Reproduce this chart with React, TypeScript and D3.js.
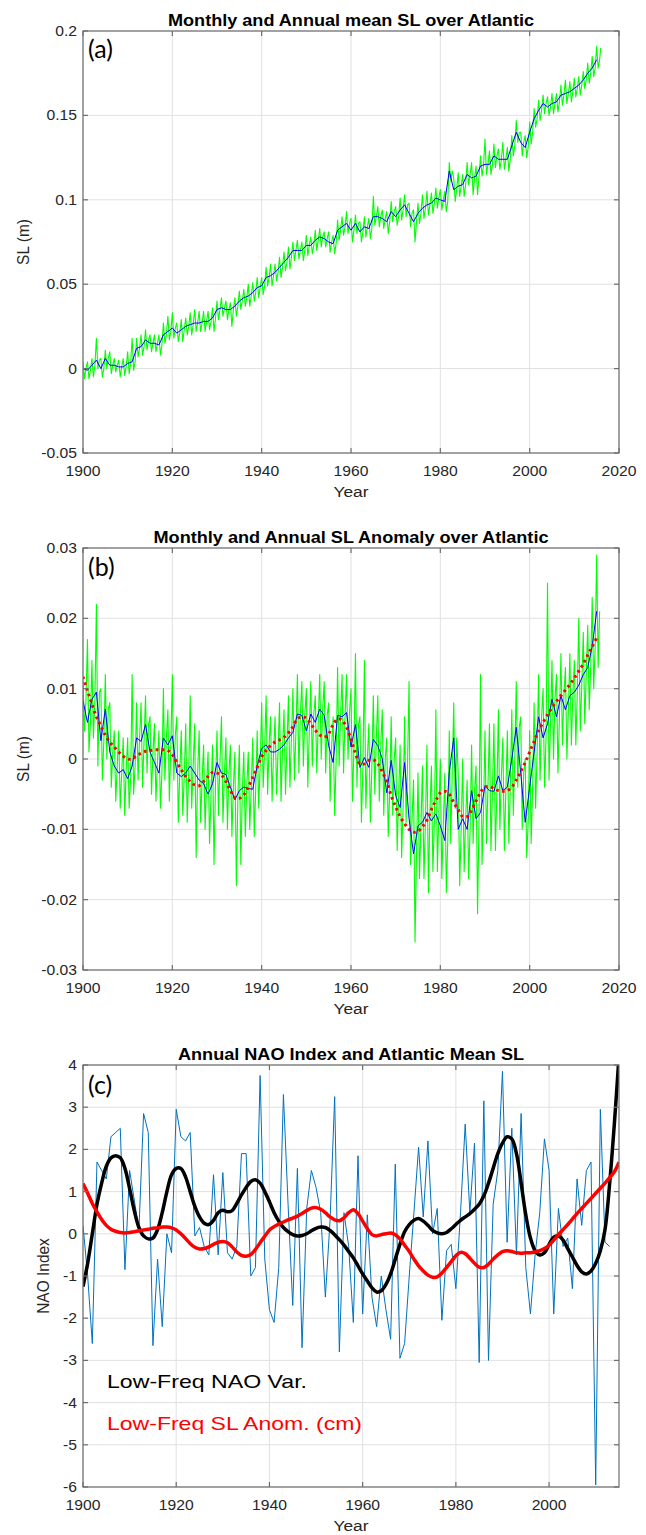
import React from 'react';
import * as d3 from 'd3';

// ---------------- DATA ----------------
const START_YEAR = 1900;

// Panel (a): annual mean SL (m), 1900-2015
const slAnnual = [
  0.000, -0.001, 0.002, 0.005, 0.000, 0.006, 0.002, 0.002, 0.001, 0.001,
  0.003, 0.004, 0.012, 0.013, 0.017, 0.015, 0.015, 0.014, 0.020, 0.022,
  0.024, 0.021, 0.023, 0.025, 0.026, 0.027, 0.027, 0.028, 0.028, 0.030,
  0.035, 0.036, 0.035, 0.035, 0.037, 0.040, 0.042, 0.043, 0.045, 0.048,
  0.049, 0.054, 0.055, 0.057, 0.060, 0.063, 0.066, 0.070, 0.070, 0.070,
  0.073, 0.073, 0.076, 0.078, 0.077, 0.075, 0.074, 0.082, 0.084, 0.086,
  0.082, 0.086, 0.081, 0.084, 0.083, 0.090, 0.090, 0.089, 0.087, 0.093,
  0.090, 0.094, 0.097, 0.092, 0.087, 0.092, 0.095, 0.097, 0.098, 0.101,
  0.100, 0.099, 0.117, 0.106, 0.108, 0.109, 0.115, 0.113, 0.114, 0.120,
  0.121, 0.121, 0.126, 0.124, 0.124, 0.124, 0.132, 0.140, 0.134, 0.131,
  0.140, 0.148, 0.153, 0.157, 0.155, 0.157, 0.158, 0.162, 0.163, 0.164,
  0.166, 0.168, 0.171, 0.175, 0.178, 0.183,
];
// Panel (a): monthly excursions above / below the annual mean (mm)
const slMonthlyUpMm = [
  4, 5, 4, 13, 6, 5, 8, 4, 4, 5,
  7, 14, 6, 7, 6, 5, 5, 6, 7, 9,
  9, 6, 6, 5, 7, 8, 7, 6, 6, 6,
  5, 6, 5, 4, 5, 6, 5, 7, 6, 6,
  5, 6, 7, 5, 6, 6, 6, 5, 6, 5,
  6, 5, 6, 5, 4, 6, 5, 6, 6, 7,
  7, 5, 6, 6, 6, 12, 6, 5, 6, 6,
  6, 7, 6, 6, 7, 6, 8, 8, 6, 6,
  6, 6, 5, 7, 8, 6, 7, 9, 6, 6,
  15, 8, 7, 6, 10, 7, 6, 7, 6, 7,
  6, 6, 6, 5, 6, 6, 5, 6, 8, 6,
  6, 5, 5, 6, 7, 8,
];
const slMonthlyDownMm = [
  6, 5, 7, 5, 5, 6, 5, 4, 6, 5,
  6, 5, 5, 5, 6, 5, 5, 6, 5, 5,
  6, 5, 7, 5, 6, 5, 5, 6, 5, 8,
  6, 5, 6, 10, 6, 5, 5, 6, 5, 6,
  5, 5, 6, 5, 6, 5, 7, 6, 5, 6,
  6, 5, 6, 6, 5, 6, 6, 6, 5, 6,
  7, 6, 6, 6, 6, 5, 6, 6, 7, 6,
  5, 6, 7, 8, 12, 6, 6, 6, 6, 6,
  6, 6, 6, 7, 6, 7, 6, 10, 11, 6,
  6, 6, 7, 6, 6, 7, 6, 6, 8, 6,
  7, 5, 6, 6, 5, 6, 6, 6, 6, 6,
  5, 6, 5, 6, 5, 5,
];

// Panel (b): annual SL anomaly (m), 1900-2015
const anomAnnual = [
  0.0083, 0.0052, 0.0085, 0.0095, 0.0026, 0.0071, 0.0010, -0.0010, -0.0020, -0.0015,
  -0.0028, -0.0010, 0.0030, 0.0025, 0.0049, 0.0010, -0.0005, -0.0020, 0.0030, 0.0020,
  0.0033, -0.0020, -0.0025, -0.0020, -0.0010, -0.0020, -0.0030, -0.0035, -0.0050, -0.0035,
  -0.0005, -0.0020, -0.0022, -0.0040, -0.0058, -0.0045, -0.0040, -0.0042, -0.0043, -0.0010,
  0.0015, 0.0020, 0.0010, 0.0010, 0.0014, 0.0020, 0.0030, 0.0038, 0.0064, 0.0062,
  0.0040, 0.0064, 0.0052, 0.0071, 0.0062, 0.0019, -0.0005, 0.0062, 0.0060, 0.0066,
  0.0017, 0.0049, -0.0012, 0.0002, -0.0012, 0.0028, 0.0019, 0.0000, -0.0048, -0.0002,
  -0.0052, -0.0069, -0.0005, -0.0085, -0.0135, -0.0095, -0.0090, -0.0076, -0.0088, -0.0078,
  -0.0095, -0.0116, -0.0019, 0.0030, -0.0100, -0.0085, -0.0100, -0.0045, -0.0085, -0.0076,
  -0.0038, -0.0045, -0.0046, -0.0024, -0.0045, -0.0040, 0.0000, 0.0045, -0.0020, -0.0090,
  -0.0040, 0.0010, 0.0060, 0.0030, 0.0050, 0.0085, 0.0060, 0.0090, 0.0070, 0.0090,
  0.0095, 0.0105, 0.0120, 0.0130, 0.0160, 0.0210,
];
// Panel (b): monthly anomaly highest / lowest value in each year (mm)
const anomMonthlyHiMm = [
  11, 17, 14, 22, 10, 12, 8, 4, 4, 3,
  3, 12, 8, 8, 9, 6, 5, 4, 10, 7,
  12, 6, 4, 5, 9, 5, 4, 2, 1, 2,
  4, 6, 3, 2, 1, 2, 1, 1, 3, 4,
  8, 9, 6, 6, 8, 7, 9, 10, 12, 11,
  10, 11, 9, 12, 11, 8, 6, 13, 12, 12,
  10, 15, 6, 14, 5, 9, 9, 7, 3, 6,
  3, 2, 6, 11, -3, -2, -1, 2, -1, 7,
  0, -2, 4, 8, -2, 0, -3, 2, -1, 12,
  4, 5, 5, 7, 3, 4, 7, 11, 6, 0,
  4, 8, 12, 10, 25, 14, 12, 15, 13, 15,
  14, 20, 18, 19, 23, 29,
];
const anomMonthlyLoMm = [
  4, 1, 3, -1, -3, 0, -4, -6, -7, -8,
  -7, -5, -3, -4, -2, -5, -6, -7, -3, -6,
  -3, -9, -8, -9, -7, -14, -9, -10, -12, -15,
  -8, -9, -10, -11, -18, -15, -11, -10, -11, -7,
  -4, -5, -6, -5, -6, -5, -4, -3, -2, -1,
  -4, -1, -2, 0, -2, -6, -8, -1, -2, 0,
  -6, -4, -9, -7, -9, -5, -6, -8, -11, -8,
  -13, -14, -9, -15, -26, -17, -17, -19, -16, -16,
  -17, -19, -12, -7, -18, -16, -17, -12, -22, -15,
  -12, -13, -13, -10, -13, -12, -8, -4, -10, -14,
  -12, -7, -3, -4, -3, 0, -2, 2, 0, 2,
  2, 4, 5, 7, 10, 13,
];
// Panel (b): low-frequency anomaly (m)
const anomSmooth = [
  0.0117, 0.0097, 0.0078, 0.0060, 0.0047, 0.0034, 0.0024, 0.0017, 0.0010, 0.0004,
  0.0000, 0.0000, 0.0005, 0.0008, 0.0011, 0.0012, 0.0013, 0.0013, 0.0013, 0.0012,
  0.0006, -0.0005, -0.0015, -0.0025, -0.0032, -0.0037, -0.0038, -0.0032, -0.0025, -0.0019,
  -0.0020, -0.0023, -0.0032, -0.0045, -0.0055, -0.0056, -0.0051, -0.0040, -0.0026, -0.0012,
  0.0003, 0.0012, 0.0019, 0.0024, 0.0027, 0.0031, 0.0037, 0.0046, 0.0057, 0.0060,
  0.0058, 0.0050, 0.0041, 0.0034, 0.0031, 0.0036, 0.0049, 0.0057, 0.0055, 0.0045,
  0.0028, 0.0008, -0.0007, -0.0007, -0.0002, -0.0001, -0.0007, -0.0018, -0.0032, -0.0052,
  -0.0068, -0.0082, -0.0092, -0.0100, -0.0104, -0.0103, -0.0096, -0.0087, -0.0072, -0.0059,
  -0.0048, -0.0046, -0.0050, -0.0062, -0.0072, -0.0082, -0.0082, -0.0073, -0.0060, -0.0047,
  -0.0040, -0.0039, -0.0042, -0.0045, -0.0046, -0.0045, -0.0040, -0.0030, -0.0018, -0.0005,
  0.0010, 0.0025, 0.0040, 0.0052, 0.0063, 0.0073, 0.0082, 0.0090, 0.0098, 0.0106,
  0.0115, 0.0125, 0.0135, 0.0148, 0.0160, 0.0172,
];

// Panel (c): annual NAO index, 1900-2013
const naoAnnual = [
  0.2, -1.0, -2.6, 1.7, 1.5, 1.3, 2.3, 2.4, 2.5, -0.85,
  1.5, 0.8, 0.1, 2.85, 2.4, -2.65, -0.6, -2.2, 0.0, -0.45,
  2.95, 2.3, 2.2, 2.4, -0.05, 0.15, -0.3, -0.5, 1.4, -0.5,
  1.45, -0.45, -0.6, -0.3, 1.9, 1.9, -1.0, -0.8, 3.75, -0.6,
  -1.8, -2.1, -0.8, 3.3, 0.7, -1.7, 1.55, -2.7, 0.6, 1.5,
  1.1, 0.5, -1.5, 0.3, 3.25, -2.8, 0.5, -0.3, -2.1, 1.85,
  -1.9, 0.45, -1.5, -2.2, -1.0, -1.8, -2.5, 1.65, -2.95, -2.6,
  -1.0, 0.5, 2.05, 0.4, 2.2, 0.0, 0.6, -2.05, -0.4, -0.25,
  -1.3, 0.5, 2.6, 0.5, 2.15, -3.05, 3.15, -3.0, 0.7, 1.5,
  3.85, -0.2, 2.5, -0.5, 2.85, -0.8, -1.9, -0.5, 0.5, 2.25,
  1.5, -1.9, 0.6, -0.3, -0.1, -1.3, 1.3, 0.2, 1.5, 1.7,
  -5.95, 2.95, -0.2, -0.3,
];
// Panel (c): low-frequency NAO variability, 1900-2015
const naoSmooth = [
  -1.25, -0.7, 0.0, 0.7, 1.2, 1.6, 1.8, 1.85, 1.8, 1.55,
  1.07, 0.55, 0.15, -0.05, -0.12, -0.1, 0.1, 0.5, 1.0, 1.4,
  1.55, 1.55, 1.35, 1.0, 0.65, 0.4, 0.25, 0.22, 0.32, 0.5,
  0.56, 0.52, 0.55, 0.72, 0.92, 1.1, 1.24, 1.28, 1.2, 1.0,
  0.76, 0.5, 0.3, 0.15, 0.05, -0.02, -0.05, -0.04, 0.0, 0.07,
  0.13, 0.16, 0.15, 0.08, -0.02, -0.14, -0.27, -0.42, -0.57, -0.76,
  -0.95, -1.12, -1.28, -1.38, -1.35, -1.2, -0.95, -0.6, -0.25, 0.05,
  0.22, 0.32, 0.36, 0.3, 0.2, 0.08, 0.02, 0.0, 0.03, 0.12,
  0.22, 0.32, 0.4, 0.48, 0.58, 0.7, 0.9, 1.2, 1.55, 1.9,
  2.15, 2.3, 2.25, 1.9, 1.2, 0.45, -0.1, -0.4, -0.5, -0.45,
  -0.25, -0.08, -0.05, -0.15, -0.35, -0.55, -0.75, -0.9, -0.95, -0.88,
  -0.7, -0.4, 0.1, 1.2, 2.6, 4.2,
];
// Panel (c): low-frequency SL anomaly (cm), 1900-2015
const slSmoothCm = [
  1.19, 0.96, 0.72, 0.52, 0.34, 0.2, 0.11, 0.06, 0.03, 0.02,
  0.03, 0.05, 0.07, 0.09, 0.11, 0.13, 0.14, 0.16, 0.16, 0.14,
  0.09, 0.0, -0.11, -0.23, -0.32, -0.36, -0.35, -0.31, -0.25, -0.2,
  -0.18, -0.21, -0.31, -0.43, -0.51, -0.53, -0.49, -0.37, -0.21, -0.06,
  0.09, 0.17, 0.23, 0.28, 0.33, 0.37, 0.42, 0.48, 0.55, 0.61,
  0.62, 0.58, 0.5, 0.4, 0.33, 0.31, 0.38, 0.5, 0.57, 0.48,
  0.3, 0.12, -0.02, -0.05, -0.02, 0.0, 0.02, -0.02, -0.12, -0.27,
  -0.42, -0.6, -0.76, -0.88, -0.98, -1.03, -1.02, -0.93, -0.8, -0.66,
  -0.52, -0.44, -0.47, -0.58, -0.7, -0.79, -0.8, -0.72, -0.6, -0.5,
  -0.42, -0.4, -0.42, -0.45, -0.46, -0.45, -0.45, -0.43, -0.4, -0.35,
  -0.27, -0.15, -0.02, 0.1, 0.22, 0.35, 0.48, 0.6, 0.72, 0.84,
  0.96, 1.08, 1.2, 1.33, 1.47, 1.7,
];

// Ticks
const xTicksAB = [1900, 1920, 1940, 1960, 1980, 2000, 2020];
const xTicksC = [1900, 1920, 1940, 1960, 1980, 2000];
const yTicksA = [-0.05, 0, 0.05, 0.1, 0.15, 0.2];
const yTicksB = [-0.03, -0.02, -0.01, 0, 0.01, 0.02, 0.03];
const yTicksC = [-6, -5, -4, -3, -2, -1, 0, 1, 2, 3, 4];

// ---------------- LAYOUT ----------------
const W = 646;
const H = 1535;
const LEFT = 83;
const RIGHT = 619;
const SX = 1.12; // horizontal stretch of the reference's text
const TICK_FONT = 'Liberation Sans, Arial, Helvetica, sans-serif';

type Series = {
  pts: [number, number][];
  color: string;
  width: number;
  dash?: string;
  smooth?: boolean;
};

type PanelProps = {
  id: string;
  top: number;
  bottom: number;
  xDomain: [number, number];
  yDomain: [number, number];
  xTicks: number[];
  yTicks: number[];
  title: string;
  titleLen: number;
  yLabel: string;
  yLabelX: number;
  letter: string;
  letterY: number;
  series: Series[];
  children?: React.ReactNode;
};

function Panel(p: PanelProps) {
  const x = d3.scaleLinear().domain(p.xDomain).range([LEFT, RIGHT]);
  const y = d3.scaleLinear().domain(p.yDomain).range([p.bottom, p.top]);
  const midX = (LEFT + RIGHT) / 2;
  const midY = (p.top + p.bottom) / 2;
  const tl = 5;
  const axisColor = '#6e6e6e';
  return (
    <g>
      <defs>
        <clipPath id={`clip-${p.id}`}>
          <rect x={LEFT} y={p.top} width={RIGHT - LEFT} height={p.bottom - p.top} />
        </clipPath>
      </defs>
      {p.xTicks.map((t) => (
        <line key={'gx' + t} x1={x(t)} x2={x(t)} y1={p.top} y2={p.bottom} stroke="#e1e1e1" strokeWidth={1} />
      ))}
      {p.yTicks.map((t) => (
        <line key={'gy' + t} x1={LEFT} x2={RIGHT} y1={y(t)} y2={y(t)} stroke="#e1e1e1" strokeWidth={1} />
      ))}
      <g clipPath={`url(#clip-${p.id})`}>
        {p.series.map((s, i) => {
          const gen = d3
            .line<[number, number]>()
            .x((d) => x(d[0]))
            .y((d) => y(d[1]));
          if (s.smooth) gen.curve(d3.curveCatmullRom.alpha(0.5));
          return (
            <path
              key={i}
              d={gen(s.pts) || ''}
              fill="none"
              stroke={s.color}
              strokeWidth={s.width}
              strokeDasharray={s.dash}
              strokeLinejoin="round"
            />
          );
        })}
      </g>
      <rect x={LEFT} y={p.top} width={RIGHT - LEFT} height={p.bottom - p.top} fill="none" stroke={axisColor} strokeWidth={1.2} />
      {p.xTicks.map((t) => (
        <g key={'tx' + t}>
          <line x1={x(t)} x2={x(t)} y1={p.bottom} y2={p.bottom - tl} stroke={axisColor} strokeWidth={1.2} />
          <line x1={x(t)} x2={x(t)} y1={p.top} y2={p.top + tl} stroke={axisColor} strokeWidth={1.2} />
        </g>
      ))}
      {p.yTicks.map((t) => (
        <g key={'ty' + t}>
          <line x1={LEFT} x2={LEFT + tl} y1={y(t)} y2={y(t)} stroke={axisColor} strokeWidth={1.2} />
          <line x1={RIGHT} x2={RIGHT - tl} y1={y(t)} y2={y(t)} stroke={axisColor} strokeWidth={1.2} />
        </g>
      ))}
      {p.xTicks.map((t) => (
        <text
          key={'lx' + t}
          transform={`translate(${x(t)},${p.bottom + 23}) scale(${SX},1)`}
          textAnchor="middle"
          fontFamily={TICK_FONT}
          fontSize={14}
          fill="#262626"
        >
          {String(t)}
        </text>
      ))}
      {p.yTicks.map((t) => (
        <text
          key={'ly' + t}
          transform={`translate(${LEFT - 6},${y(t) + 5}) scale(${SX},1)`}
          textAnchor="end"
          fontFamily={TICK_FONT}
          fontSize={14}
          fill="#262626"
        >
          {String(t)}
        </text>
      ))}
      <text
        transform={`translate(${midX},${p.bottom + 44}) scale(${SX},1)`}
        textAnchor="middle"
        fontFamily={TICK_FONT}
        fontSize={15.5}
        fill="#262626"
      >
        Year
      </text>
      <text
        transform={`translate(${p.yLabelX},${midY}) rotate(-90) scale(1,${SX})`}
        textAnchor="middle"
        fontFamily={TICK_FONT}
        fontSize={15.5}
        fill="#262626"
      >
        {p.yLabel}
      </text>
      <text
        x={midX}
        y={p.top - 5}
        textAnchor="middle"
        fontFamily={TICK_FONT}
        fontWeight="bold"
        fontSize={16}
        fill="#000"
        textLength={p.titleLen}
        lengthAdjust="spacingAndGlyphs"
      >
        {p.title}
      </text>
      <text x={88} y={p.letterY} fontFamily="Lato, 'Open Sans', sans-serif" fontSize={25} fill="#000">
        {p.letter}
      </text>
      {p.children}
    </g>
  );
}

export default function App() {
  // panel a: annual line and monthly trace (high, low, back to the annual mean each year)
  const aBlue: [number, number][] = slAnnual.map((v, i) => [START_YEAR + i, v]);
  const aGreen: [number, number][] = [];
  slAnnual.forEach((v, i) => {
    aGreen.push([START_YEAR + i, v + slMonthlyUpMm[i] / 1000]);
    aGreen.push([START_YEAR + i + 1 / 3, v - slMonthlyDownMm[i] / 1000]);
    aGreen.push([START_YEAR + i + 2 / 3, v]);
  });
  aGreen.push([START_YEAR + slAnnual.length - 0.1, 0.19]);

  // panel b
  const bBlue: [number, number][] = anomAnnual.map((v, i) => [START_YEAR + i, v]);
  const bGreen: [number, number][] = [];
  anomMonthlyHiMm.forEach((v, i) => {
    bGreen.push([START_YEAR + i, v / 1000]);
    bGreen.push([START_YEAR + i + 1 / 3, anomMonthlyLoMm[i] / 1000]);
    bGreen.push([START_YEAR + i + 2 / 3, anomAnnual[i]]);
  });
  const bRed: [number, number][] = anomSmooth.map((v, i) => [START_YEAR + i, v]);

  // panel c
  const cBlue: [number, number][] = naoAnnual.map((v, i) => [START_YEAR + i, v]);
  const cBlack: [number, number][] = naoSmooth.map((v, i) => [START_YEAR + i, v]);
  const cRed: [number, number][] = slSmoothCm.map((v, i) => [START_YEAR + i, v]);

  return (
    <svg
      width={W}
      height={H}
      viewBox={`0 0 ${W} ${H}`}
      style={{ position: 'absolute', left: 0, top: 0, background: '#fff', display: 'block' }}
    >
      <rect x={0} y={0} width={W} height={H} fill="#fff" />
      <Panel
        id="a"
        top={31}
        bottom={453}
        xDomain={[1900, 2020]}
        yDomain={[-0.05, 0.2]}
        xTicks={xTicksAB}
        yTicks={yTicksA}
        title="Monthly and Annual mean SL over Atlantic"
        titleLen={366}
        yLabel="SL (m)"
        yLabelX={29}
        letter="(a)"
        letterY={58}
        series={[
          { pts: aGreen, color: '#00ff00', width: 1.1 },
          { pts: aBlue, color: '#0000ff', width: 1 },
        ]}
      />
      <Panel
        id="b"
        top={548}
        bottom={970}
        xDomain={[1900, 2020]}
        yDomain={[-0.03, 0.03]}
        xTicks={xTicksAB}
        yTicks={yTicksB}
        title="Monthly and Annual SL Anomaly over Atlantic"
        titleLen={395}
        yLabel="SL (m)"
        yLabelX={29}
        letter="(b)"
        letterY={576}
        series={[
          { pts: bGreen, color: '#00ff00', width: 1.1 },
          { pts: bBlue, color: '#0000ff', width: 1 },
          { pts: bRed, color: '#ff0000', width: 3, dash: '2.6 3.4', smooth: true },
        ]}
      />
      <Panel
        id="c"
        top={1065}
        bottom={1487}
        xDomain={[1900, 2015]}
        yDomain={[-6, 4]}
        xTicks={xTicksC}
        yTicks={yTicksC}
        title="Annual NAO Index and Atlantic Mean SL"
        titleLen={346}
        yLabel="NAO Index"
        yLabelX={49}
        letter="(c)"
        letterY={1094}
        series={[
          { pts: cBlue, color: '#0072BD', width: 1 },
          { pts: cBlack, color: '#000000', width: 3.5, smooth: true },
          { pts: cRed, color: '#ff0000', width: 3.5, smooth: true },
        ]}
      >
        <text
          x={107}
          y={1388}
          fontFamily={TICK_FONT}
          fontSize={19}
          fill="#000"
          textLength={200}
          lengthAdjust="spacingAndGlyphs"
        >
          Low-Freq NAO Var.
        </text>
        <text
          x={107}
          y={1430}
          fontFamily={TICK_FONT}
          fontSize={19}
          fill="#ff0000"
          textLength={255}
          lengthAdjust="spacingAndGlyphs"
        >
          Low-Freq SL Anom. (cm)
        </text>
      </Panel>
    </svg>
  );
}
